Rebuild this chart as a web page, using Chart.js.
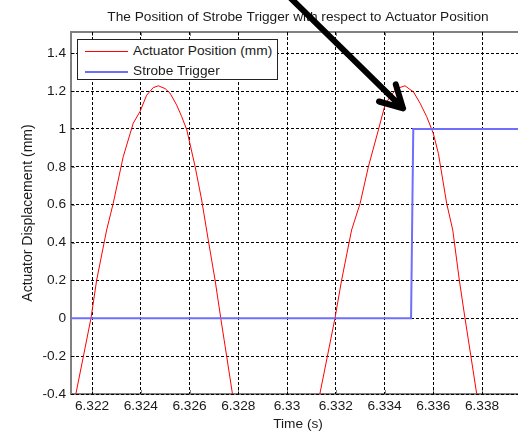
<!DOCTYPE html>
<html>
<head>
<meta charset="utf-8">
<title>Strobe Trigger vs Actuator Position</title>
<script src="https://cdn.jsdelivr.net/npm/chart.js@4/dist/chart.umd.min.js"></script>
<style>
    body { margin: 0; background: #fff; overflow: hidden; }
    #wrap { position: relative; width: 530px; height: 432px; }
    #legend {
        position: absolute; left: 77px; top: 39px; width: 201px; height: 41px;
        box-sizing: border-box; border: 1px solid #222; background: #fff;
        font: 13.7px "Liberation Sans", Arial, sans-serif; color: #1a1a1a;
    }
    #legend .row { position: absolute; left: 0; width: 199px; height: 20px; line-height: 20px; white-space: nowrap; }
    #legend .swatch { position: absolute; left: 7px; top: 10px; width: 43px; display: block; }
    #legend .txt { position: absolute; left: 55px; top: 0; }
</style>
</head>
<body>
<div id="wrap">
    <canvas id="posChart" width="530" height="432"></canvas>
    <div id="legend"></div>
</div>
<script>
// actuator position samples (s, mm)
const posTime = [
    6.32110, 6.32134, 6.32164, 6.32196, 6.32219, 6.32260, 6.32287, 6.32328, 6.32369, 6.32397,
    6.32424, 6.32451, 6.32472, 6.32500, 6.32520, 6.32547, 6.32568, 6.32589, 6.32623, 6.32650,
    6.32677, 6.32705, 6.32728, 6.32753, 6.32776, 6.32792, 6.32955,
    6.33119, 6.33135, 6.33165, 6.33197, 6.33224, 6.33265, 6.33300, 6.33334, 6.33375, 6.33402,
    6.33423, 6.33450, 6.33484, 6.33505, 6.33518, 6.33546, 6.33573, 6.33600, 6.33621, 6.33655,
    6.33680, 6.33707, 6.33730, 6.33755, 6.33778, 6.33790, 6.33950
];
const posMm = [
    -0.55, -0.398, -0.205, 0.002, 0.201, 0.466, 0.607, 0.853, 1.030, 1.092,
    1.178, 1.218, 1.228, 1.213, 1.189, 1.127, 1.065, 0.995, 0.801, 0.624,
    0.413, 0.201, 0.002, -0.205, -0.398, -0.50, -1.20,
    -0.50, -0.398, -0.205, 0.002, 0.201, 0.466, 0.607, 0.801, 0.995, 1.127,
    1.171, 1.213, 1.228, 1.208, 1.197, 1.136, 1.065, 0.977, 0.871, 0.607,
    0.466, 0.201, 0.002, -0.205, -0.398, -0.50, -1.20
];

// strobe trigger signal
const strobeTime = [6.32110, 6.33509, 6.33518, 6.34000];
const strobeVal = [0, 0, 1, 1];

const xTicks = [6.322, 6.324, 6.326, 6.328, 6.330, 6.332, 6.334, 6.336, 6.338];
const xTickLabels = ['6.322', '6.324', '6.326', '6.328', '6.33', '6.332', '6.334', '6.336', '6.338'];
const yTicks = [-0.4, -0.2, 0, 0.2, 0.4, 0.6, 0.8, 1, 1.2, 1.4];
const yTickLabels = ['-0.4', '-0.2', '0', '0.2', '0.4', '0.6', '0.8', '1', '1.2', '1.4'];

// annotation arrow, in data units
const arrowFrom = { x: 6.32980, y: 1.735 };
const arrowTo = { x: 6.33476, y: 1.109 };

const posColor = '#ff0000';
const strobeColor = '#6e6eff';
const textColor = '#1a1a1a';
const frameColor = '#808080';
const fontFamily = '"Liberation Sans", Arial, sans-serif';

const toPoints = (xs, ys) => xs.map((x, i) => ({ x: x, y: ys[i] }));

// grey box round the axes plus small inward ticks
const framePlugin = {
    id: 'frame',
    beforeDraw(chart) {
        const { ctx, chartArea: a, scales } = chart;
        ctx.save();
        ctx.strokeStyle = frameColor;
        ctx.lineWidth = 2;
        ctx.beginPath();
        ctx.moveTo(a.right + 2, a.top);
        ctx.lineTo(a.left, a.top);
        ctx.lineTo(a.left, a.bottom);
        ctx.lineTo(a.right + 2, a.bottom);
        ctx.stroke();
        ctx.lineWidth = 1;
        ctx.beginPath();
        xTicks.forEach(v => {
            const px = Math.round(scales.x.getPixelForValue(v)) + 0.5;
            ctx.moveTo(px, a.top);
            ctx.lineTo(px, a.top + 4);
            ctx.moveTo(px, a.bottom);
            ctx.lineTo(px, a.bottom - 4);
        });
        yTicks.forEach(v => {
            const py = Math.round(scales.y.getPixelForValue(v)) + 0.5;
            ctx.moveTo(a.left, py);
            ctx.lineTo(a.left + 4, py);
        });
        ctx.stroke();
        ctx.restore();
    }
};

const arrowPlugin = {
    id: 'arrow',
    afterDraw(chart) {
        const { ctx, scales } = chart;
        const x0 = scales.x.getPixelForValue(arrowFrom.x);
        const y0 = scales.y.getPixelForValue(arrowFrom.y);
        const x1 = scales.x.getPixelForValue(arrowTo.x);
        const y1 = scales.y.getPixelForValue(arrowTo.y);
        const ang = Math.atan2(y1 - y0, x1 - x0);
        const head = 25;
        ctx.save();
        ctx.strokeStyle = '#000';
        ctx.lineWidth = 6;
        ctx.lineCap = 'round';
        ctx.lineJoin = 'round';
        ctx.beginPath();
        ctx.moveTo(x0, y0);
        ctx.lineTo(x1, y1);
        [-1, 1].forEach(s => {
            const a = ang + Math.PI + s * 0.5;
            ctx.moveTo(x1, y1);
            ctx.lineTo(x1 + head * Math.cos(a), y1 + head * Math.sin(a));
        });
        ctx.stroke();
        ctx.restore();
    }
};

const chart = new Chart(document.getElementById('posChart'), {
    type: 'line',
    data: {
        datasets: [{
            label: 'Actuator Position (mm)',
            data: toPoints(posTime, posMm),
            borderColor: posColor,
            borderWidth: 1,
            pointRadius: 0,
            tension: 0,
            order: 1
        }, {
            label: 'Strobe Trigger',
            data: toPoints(strobeTime, strobeVal),
            borderColor: strobeColor,
            borderWidth: 2,
            pointRadius: 0,
            tension: 0,
            order: 0
        }]
    },
    options: {
        responsive: false,
        animation: false,
        layout: { padding: { left: 0, right: 5, top: 0, bottom: 0 } },
        plugins: {
            legend: { display: false },
            tooltip: { enabled: false },
            title: {
                display: true,
                fullSize: false,
                text: 'The Position of Strobe Trigger with respect to Actuator Position',
                color: textColor,
                font: { family: fontFamily, size: 13.7, weight: 'normal' },
                padding: { top: 9, bottom: 6.56 }
            }
        },
        scales: {
            x: {
                type: 'linear',
                min: 6.321138,
                max: 6.339764,
                afterFit: s => { s.height = 38; },
                afterBuildTicks: s => { s.ticks = xTicks.map(v => ({ value: v })); },
                grid: { color: '#000', lineWidth: 1, drawTicks: false },
                border: { display: false, dash: [3, 2] },
                ticks: {
                    color: textColor,
                    padding: 4,
                    maxRotation: 0,
                    autoSkip: false,
                    font: { family: fontFamily, size: 13.7 },
                    callback: (v, i) => xTickLabels[i]
                },
                title: {
                    display: true,
                    text: 'Time (s)',
                    color: textColor,
                    font: { family: fontFamily, size: 13.7 },
                    padding: { top: 0, bottom: 0 }
                }
            },
            y: {
                min: -0.4,
                max: 1.512,
                afterFit: s => { s.width = 71; },
                afterBuildTicks: s => { s.ticks = yTicks.map(v => ({ value: v })); },
                grid: { color: '#000', lineWidth: 1, drawTicks: false },
                border: { display: false, dash: [3, 2] },
                ticks: {
                    color: textColor,
                    padding: 5,
                    autoSkip: false,
                    font: { family: fontFamily, size: 13.7 },
                    callback: (v, i) => yTickLabels[i]
                },
                title: {
                    display: true,
                    text: 'Actuator Displacement (mm)',
                    color: textColor,
                    font: { family: fontFamily, size: 14 },
                    padding: { top: 20, bottom: 0 }
                }
            }
        }
    },
    plugins: [framePlugin, arrowPlugin]
});

// boxed legend in the upper left corner of the axes
const legendEl = document.getElementById('legend');
chart.data.datasets.forEach((ds, i) => {
    const row = document.createElement('div');
    row.className = 'row';
    row.style.top = (1 + i * 20) + 'px';
    const sw = document.createElement('span');
    sw.className = 'swatch';
    sw.style.height = ds.borderWidth + 'px';
    sw.style.background = i === 0 ? posColor : strobeColor;
    const txt = document.createElement('span');
    txt.className = 'txt';
    txt.textContent = ds.label;
    row.appendChild(sw);
    row.appendChild(txt);
    legendEl.appendChild(row);
});
</script>
</body>
</html>
